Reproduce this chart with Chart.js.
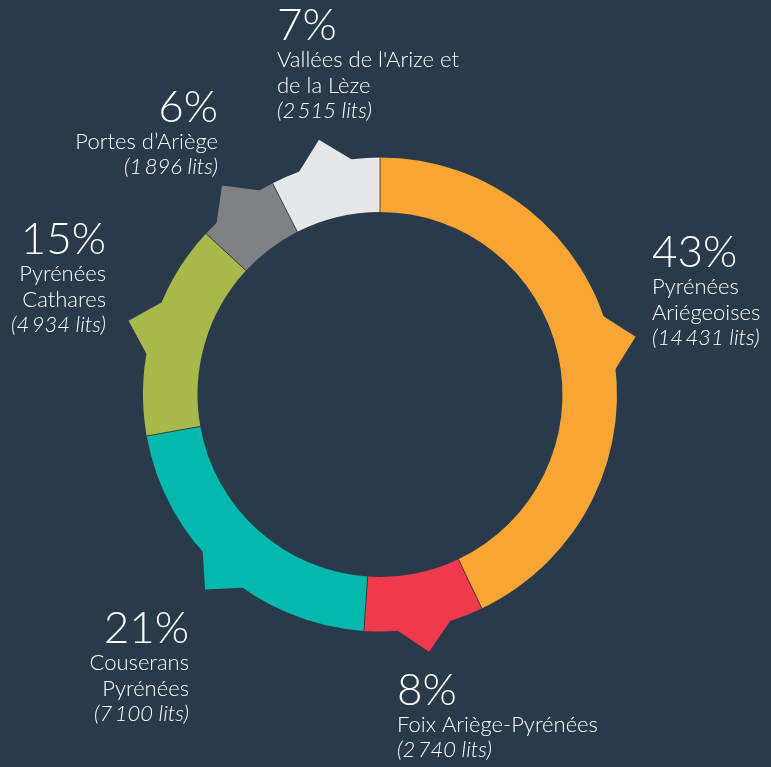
<!DOCTYPE html>
<html lang="fr">
<head>
<meta charset="utf-8">
<script src="https://cdn.jsdelivr.net/npm/chart.js@4"></script>
<style>
  html, body { margin: 0; padding: 0; background: #293a4a; }
  #wrap { width: 771px; height: 767px; position: relative; }
</style>
</head>
<body>
<div id="wrap"><canvas id="litsChart" width="771" height="767"></canvas></div>
<script>
// Données : lits touristiques par territoire
var territoires = [
  ["Pyrénées", "Ariégeoises"],
  ["Foix Ariège-Pyrénées"],
  ["Couserans", "Pyrénées"],
  ["Pyrénées", "Cathares"],
  ["Portes d’Ariège"],
  ["Vallées de l'Arize et", "de la Lèze"]
];
var lits = [14431, 2740, 7100, 4934, 1896, 2515];
var couleurs = ["#f9a533", "#ee3a4c", "#03b9ad", "#a8b84b", "#808184", "#e6e7e8"];

// emplacement des étiquettes (x, ligne de base du %, alignement)
var positions = [
  { x: 652, y: 267, align: "left" },
  { x: 397, y: 705, align: "left" },
  { x: 189, y: 643, align: "right" },
  { x: 106, y: 254, align: "right" },
  { x: 218, y: 122, align: "right" },
  { x: 277, y: 40, align: "left" }
];

var total = lits.reduce(function (a, b) { return a + b; }, 0);

function formatLits(n) {
  return String(n).replace(/\B(?=(\d{3})+(?!\d))/g, "\u2009") + " lits";
}

// petites pointes vers l'extérieur de chaque segment
var pointes = {
  id: "pointes",
  beforeDatasetsDraw: function (chart) {
    var ctx = chart.ctx;
    var arcs = chart.getDatasetMeta(0).data;
    arcs.forEach(function (arc, i) {
      var p = arc.getProps(["x", "y", "startAngle", "endAngle", "outerRadius"], true);
      var mid = (p.startAngle + p.endAngle) / 2;
      var half = Math.min(0.13, (p.endAngle - p.startAngle) * 0.42);
      var rIn = p.outerRadius - 3;
      var rOut = p.outerRadius + 25;
      ctx.save();
      ctx.fillStyle = couleurs[i];
      ctx.beginPath();
      ctx.moveTo(p.x + Math.cos(mid - half) * rIn, p.y + Math.sin(mid - half) * rIn);
      ctx.lineTo(p.x + Math.cos(mid) * rOut, p.y + Math.sin(mid) * rOut);
      ctx.lineTo(p.x + Math.cos(mid + half) * rIn, p.y + Math.sin(mid + half) * rIn);
      ctx.closePath();
      ctx.fill();
      ctx.restore();
    });
  }
};

// fins traits de séparation entre segments
var separations = {
  id: "separations",
  afterDatasetsDraw: function (chart) {
    var ctx = chart.ctx;
    var arcs = chart.getDatasetMeta(0).data;
    ctx.save();
    ctx.strokeStyle = "rgba(45,45,45,0.8)";
    ctx.lineWidth = 1;
    arcs.forEach(function (arc) {
      var p = arc.getProps(["x", "y", "startAngle", "innerRadius", "outerRadius"], true);
      ctx.beginPath();
      ctx.moveTo(p.x + Math.cos(p.startAngle) * p.innerRadius, p.y + Math.sin(p.startAngle) * p.innerRadius);
      ctx.lineTo(p.x + Math.cos(p.startAngle) * p.outerRadius, p.y + Math.sin(p.startAngle) * p.outerRadius);
      ctx.stroke();
    });
    ctx.restore();
  }
};

var etiquettes = {
  id: "etiquettes",
  afterDraw: function (chart) {
    var ctx = chart.ctx;
    ctx.save();
    ctx.fillStyle = "#ffffff";
    ctx.textBaseline = "alphabetic";
    lits.forEach(function (v, i) {
      var pos = positions[i];
      ctx.textAlign = pos.align;
      ctx.font = "300 44px Lato, 'Open Sans', sans-serif";
      ctx.fillText(Math.round(v / total * 100) + "%", pos.x, pos.y);
      var y = pos.y + 1;
      ctx.font = "300 22px Lato, 'Open Sans', sans-serif";
      territoires[i].forEach(function (ligne) {
        y += 26;
        ctx.fillText(ligne, pos.x, y);
      });
      y += 25;
      ctx.font = "italic 300 22px Lato, 'Open Sans', sans-serif";
      ctx.fillText("(" + formatLits(v) + ")", pos.x, y);
    });
    ctx.restore();
  }
};

var ctx = document.getElementById("litsChart").getContext("2d");
var litsChart = new Chart(ctx, {
  type: "doughnut",
  data: {
    labels: territoires.map(function (t) { return t.join(" "); }),
    datasets: [{
      data: lits,
      backgroundColor: couleurs,
      borderWidth: 0,
      hoverOffset: 0
    }]
  },
  options: {
    responsive: false,
    animation: false,
    events: [],
    cutout: "77%",
    layout: { padding: { left: 143, right: 154, top: 157, bottom: 135 } },
    plugins: {
      legend: { display: false },
      tooltip: { enabled: false }
    }
  },
  plugins: [pointes, separations, etiquettes]
});
</script>
</body>
</html>
